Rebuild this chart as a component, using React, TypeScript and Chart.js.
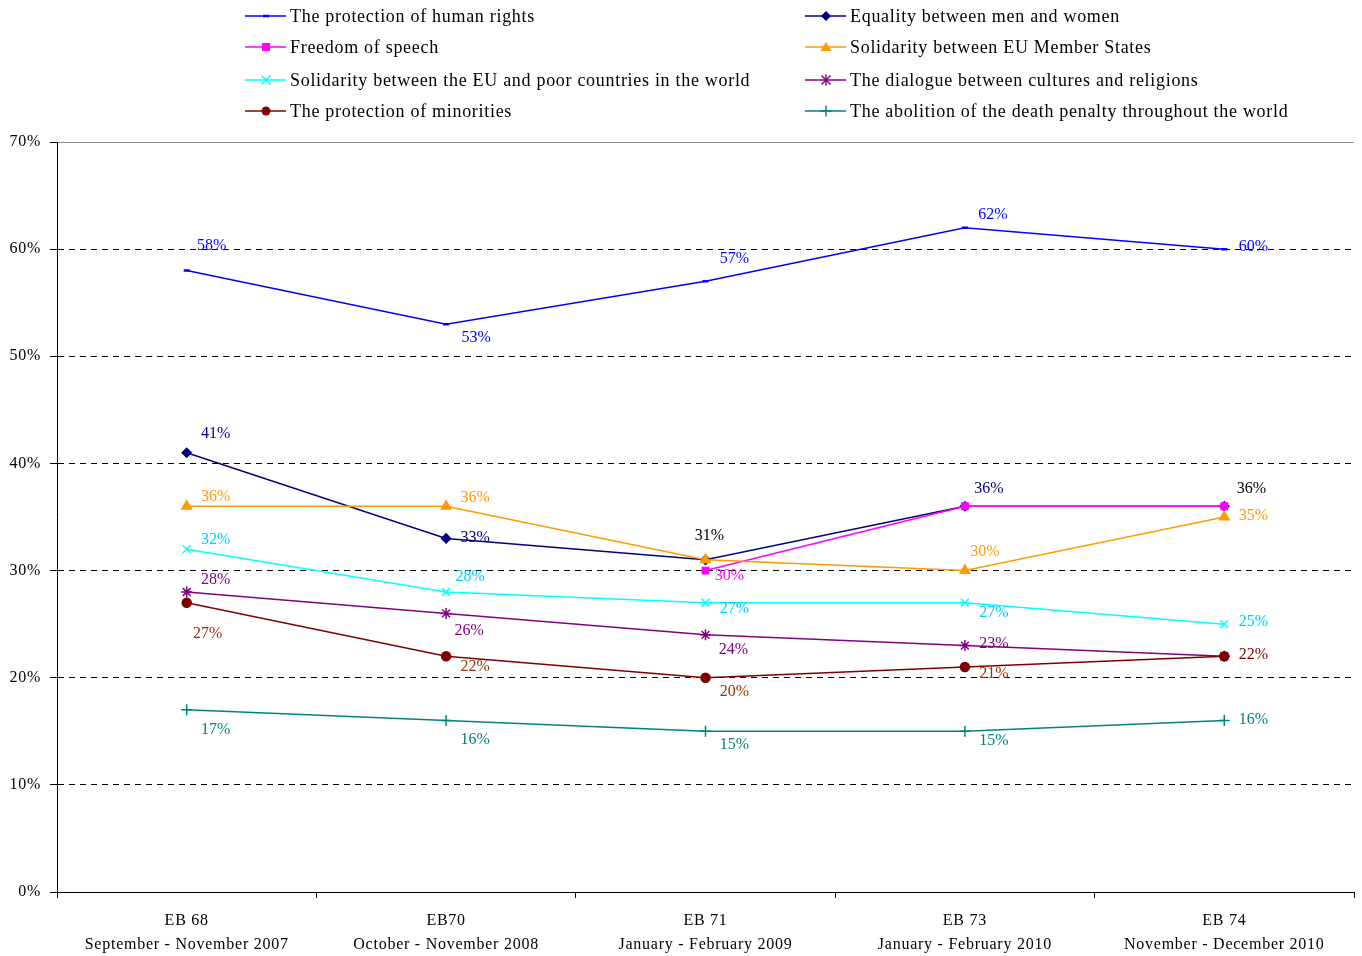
import React, { useEffect, useRef } from 'react';
import { Chart, registerables } from 'chart.js';

Chart.register(...registerables);

const FONT = "'Liberation Serif', 'Times New Roman', serif";

const categories: string[][] = [
  ['EB 68', 'September - November 2007'],
  ['EB70', 'October - November 2008'],
  ['EB 71', 'January - February 2009'],
  ['EB 73', 'January - February 2010'],
  ['EB 74', 'November - December 2010'],
];

const yTicks = [0, 10, 20, 30, 40, 50, 60, 70];

const humanRights = [58, 53, 57, 62, 60];
const equality = [41, 33, 31, 36, 36];
const freedomSpeech = [null, null, 30, 36, 36];
const solidarityMembers = [36, 36, 31, 30, 35];
const solidarityPoor = [32, 28, 27, 27, 25];
const dialogue = [28, 26, 24, 23, 22];
const minorities = [27, 22, 20, 21, 22];
const deathPenalty = [17, 16, 15, 15, 16];

const seriesNames = [
  'The protection of human rights',
  'Equality between men and women',
  'Freedom of speech',
  'Solidarity between EU Member States',
  'Solidarity between the EU and poor countries in the world',
  'The dialogue between cultures and religions',
  'The protection of minorities',
  'The abolition of the death penalty throughout the world',
];

// label offsets (dx, dy) relative to point; null = no label shown
const labelOffsets: (number[] | null)[][] = [
  [[25, -25], [30, 14], [29, -22], [28, -13], [29, -2]],
  [[29, -19], [29, -1], [4, -24], [24, -17], null],
  [null, null, [24, 5], null, [27, -17]],
  [[29, -9], [29, -8], null, [20, -19], [29, -1]],
  [[29, -9], [24, -15], [29, 6], [29, 10], [29, -2]],
  [[29, -12], [23, 17], [28, 15], [29, -2], null],
  [[21, 31], [29, 11], [29, 14], [29, 7], [29, -1]],
  [[29, 20], [29, 19], [29, 14], [29, 10], [29, -1]],
];

const labelColors: string[][] = [
  ['#0000FF', '#0000FF', '#0000FF', '#0000FF', '#0000FF'],
  ['#000080', '#000080', '#000000', '#000080', '#000080'],
  ['#FF00FF', '#FF00FF', '#FF00FF', '#FF00FF', '#000000'],
  ['#FF9900', '#FF9900', '#FF9900', '#FF9900', '#FF9900'],
  ['#00CCFF', '#00CCFF', '#00CCFF', '#00CCFF', '#00CCFF'],
  ['#800080', '#800080', '#800080', '#800080', '#800080'],
  ['#993300', '#993300', '#993300', '#993300', '#800000'],
  ['#008080', '#008080', '#008080', '#008080', '#008080'],
];

const lineColors = ['#0000FF', '#000080', '#FF00FF', '#FF9900', '#00FFFF', '#800080', '#800000', '#008080'];
const pointStyles: any[] = ['line', 'rectRot', 'rect', 'triangle', 'crossRot', 'star', 'circle', 'cross'];
const pointRadii = [3, 4.5, 4.5, 5.5, 5.5, 5.5, 4.5, 5.5];
const seriesData = [humanRights, equality, freedomSpeech, solidarityMembers, solidarityPoor, dialogue, minorities, deathPenalty];

const spacingPlugin = {
  id: 'letterSpacing',
  beforeDraw(chart: any) {
    chart.ctx.letterSpacing = '0.75px';
  },
};

const labelPlugin = {
  id: 'pointLabels',
  afterDatasetsDraw(chart: any) {
    const ctx = chart.ctx;
    ctx.save();
    ctx.letterSpacing = '0px';
    ctx.font = `16px ${FONT}`;
    ctx.textAlign = 'center';
    ctx.textBaseline = 'middle';
    chart.data.datasets.forEach((ds: any, di: number) => {
      const meta = chart.getDatasetMeta(di);
      meta.data.forEach((pt: any, i: number) => {
        const v = ds.data[i];
        const off = labelOffsets[di][i];
        if (v === null || v === undefined || !off) return;
        ctx.fillStyle = labelColors[di][i];
        ctx.fillText(`${v}%`, pt.x + off[0], pt.y + off[1]);
      });
    });
    ctx.restore();
  },
};

function Marker({ style, color }: { style: string; color: string }) {
  const cx = 21, cy = 8;
  let m: any = null;
  if (style === 'line') m = <line x1={cx - 3} y1={cy} x2={cx + 3} y2={cy} stroke={color} strokeWidth={2.5} />;
  if (style === 'rectRot') m = <polygon points={`${cx},${cy - 5} ${cx + 5},${cy} ${cx},${cy + 5} ${cx - 5},${cy}`} fill={color} />;
  if (style === 'rect') m = <rect x={cx - 4} y={cy - 4} width={8} height={8} fill={color} />;
  if (style === 'triangle') m = <polygon points={`${cx},${cy - 5} ${cx + 5.5},${cy + 4} ${cx - 5.5},${cy + 4}`} fill={color} />;
  if (style === 'crossRot') m = <g stroke={color} strokeWidth={1.5}><line x1={cx - 4.5} y1={cy - 4.5} x2={cx + 4.5} y2={cy + 4.5} /><line x1={cx - 4.5} y1={cy + 4.5} x2={cx + 4.5} y2={cy - 4.5} /></g>;
  if (style === 'star') m = <g stroke={color} strokeWidth={1.5}><line x1={cx - 4.5} y1={cy - 4.5} x2={cx + 4.5} y2={cy + 4.5} /><line x1={cx - 4.5} y1={cy + 4.5} x2={cx + 4.5} y2={cy - 4.5} /><line x1={cx} y1={cy - 5.5} x2={cx} y2={cy + 5.5} /></g>;
  if (style === 'circle') m = <circle cx={cx} cy={cy} r={4.5} fill={color} />;
  if (style === 'cross') m = <g stroke={color} strokeWidth={1.5}><line x1={cx - 5.5} y1={cy} x2={cx + 5.5} y2={cy} /><line x1={cx} y1={cy - 5.5} x2={cx} y2={cy + 5.5} /></g>;
  return (
    <svg width={41} height={16} style={{ display: 'block' }}>
      <line x1={0} y1={cy} x2={41} y2={cy} stroke={color} strokeWidth={1.5} />
      {m}
    </svg>
  );
}

const legendPos = [
  { x: 245, y: 16 }, { x: 805, y: 16 },
  { x: 245, y: 47 }, { x: 805, y: 47 },
  { x: 245, y: 80 }, { x: 805, y: 80 },
  { x: 245, y: 111 }, { x: 805, y: 111 },
];

export default function App() {
  const canvasRef = useRef<HTMLCanvasElement | null>(null);

  useEffect(() => {
    if (!canvasRef.current) return;
    const chart = new Chart(canvasRef.current, {
      type: 'line',
      data: {
        labels: categories,
        datasets: seriesData.map((d, i) => ({
          label: seriesNames[i],
          data: d,
          order: seriesData.length - i,
          borderColor: lineColors[i],
          backgroundColor: lineColors[i],
          pointBackgroundColor: lineColors[i],
          pointBorderColor: lineColors[i],
          pointStyle: pointStyles[i],
          pointRadius: pointRadii[i],
          pointBorderWidth: pointStyles[i] === 'line' ? 2.5 : 1.5,
          borderWidth: 1.5,
          tension: 0,
          fill: false,
          spanGaps: false,
        })),
      },
      options: {
        animation: false,
        responsive: false,
        maintainAspectRatio: false,
        layout: { padding: { top: 142, right: 8, left: 0, bottom: 0 } },
        plugins: {
          legend: { display: false },
          tooltip: { enabled: false },
          title: { display: false },
        },
        scales: {
          x: {
            type: 'category',
            offset: true,
            grid: {
              offset: true,
              drawOnChartArea: false,
              drawTicks: true,
              tickLength: 6,
              color: '#000',
              tickColor: '#000',
            },
            border: { display: true, color: '#000', width: 1 },
            ticks: {
              color: '#000',
              font: { family: FONT, size: 16, lineHeight: 1.5 },
              padding: 11,
              maxRotation: 0,
              autoSkip: false,
            },
            afterFit: (scale: any) => { scale.height = 64; },
          },
          y: {
            min: 0,
            max: 70,
            afterBuildTicks: (scale: any) => { scale.ticks = yTicks.map((v) => ({ value: v })); },
            grid: {
              color: (c: any) => (c.tick && c.tick.value === 70 ? '#909090' : '#000'),
              lineWidth: 1,
              drawTicks: true,
              tickLength: 7,
              tickColor: '#000',
              tickBorderDash: [],
            },
            border: {
              display: true,
              color: '#000',
              width: 1,
              dash: (c: any) => (c.tick && c.tick.value !== 70 && c.tick.value !== 0 ? [6, 5] : []),
            },
            ticks: {
              color: '#000',
              font: { family: FONT, size: 16 },
              padding: 9,
              callback: (v: any) => `${v}%`,
            },
            afterFit: (scale: any) => { scale.width = 57; },
          },
        },
      },
      plugins: [spacingPlugin, labelPlugin],
    });
    return () => chart.destroy();
  }, []);

  return (
    <div style={{ position: 'absolute', left: 0, top: 0, width: 1362, height: 956, background: '#fff' }}>
      <canvas ref={canvasRef} width={1362} height={956} style={{ position: 'absolute', left: 0, top: 0, width: 1362, height: 956 }} />
      {seriesNames.map((name, i) => (
        <div
          key={name}
          style={{
            position: 'absolute',
            left: legendPos[i].x,
            top: legendPos[i].y - 11,
            height: 22,
            display: 'flex',
            alignItems: 'center',
            whiteSpace: 'nowrap',
            fontFamily: FONT,
            fontSize: 18,
            letterSpacing: '0.7px',
            color: '#000',
          }}
        >
          <Marker style={pointStyles[i]} color={lineColors[i]} />
          <span style={{ marginLeft: 4 }}>{name}</span>
        </div>
      ))}
    </div>
  );
}
